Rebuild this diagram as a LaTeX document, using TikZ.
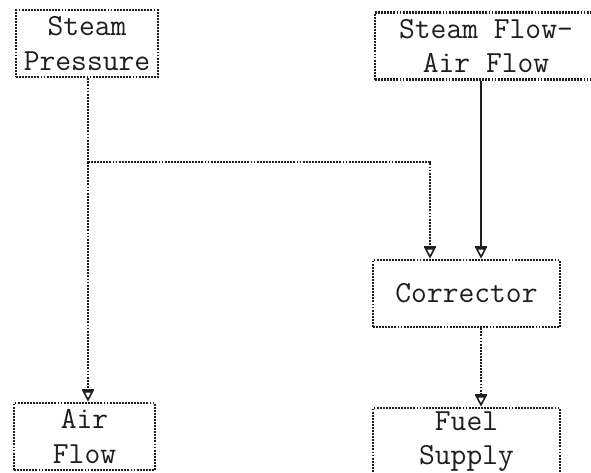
\documentclass[tikz,border=0pt]{standalone}
\usepackage{xcolor}
\usetikzlibrary{arrows.meta}
\definecolor{ink}{RGB}{30,30,30}

\begin{document}
\begin{tikzpicture}[x=0.75pt,y=0.75pt,yscale=-1,xscale=1,
  box/.style={draw=ink, text=ink, line width=2pt, dash pattern={on 1.4pt off 0.9pt},
    minimum width=#1, minimum height=50.25pt, inner sep=0pt, align=center,
    font=\ttfamily\fontsize{23}{26}\selectfont},
  feed/.style={draw=ink, line width=2pt, dash pattern={on 1.4pt off 0.9pt}},
  tip/.style={-{Bar[width=9pt,line width=1.2pt,sep=0pt]Triangle[open,width=8pt,length=8pt,line width=1.2pt]}}]
\clip (0,0) rectangle (591,472);
\fill[white] (0,0) rectangle (591,472);
% Boxes
\node[box=106.5pt] (pressure) at (87,43.5) {Steam\\Pressure};
\node[box=166.5pt] (ratio) at (486,46) {Steam Flow-\\Air Flow};
\node[box=140.25pt] (corrector) at (466.5,293.5) {Corrector};
\node[box=105.75pt] (airflow) at (84.5,436.5) {Air\\Flow};
\node[box=140.25pt] (fuel) at (466.5,441.5) {Fuel\\Supply};
% Junction points
\coordinate (split) at (88,162);
\coordinate (bend) at (430,162);
\coordinate (main) at (481,0);
% Connectors
\draw[feed] (split |- pressure.south) -- (split);
\draw[feed,tip] (split) -- (split |- airflow.north);
\draw[feed,tip] (split) -- (bend) -- (bend |- corrector.north);
\draw[draw=ink,line width=1.5pt,tip] (main |- ratio.south) -- (main |- corrector.north);
\draw[feed,tip] (main |- corrector.south) -- (main |- fuel.north);
\end{tikzpicture}
\end{document}
